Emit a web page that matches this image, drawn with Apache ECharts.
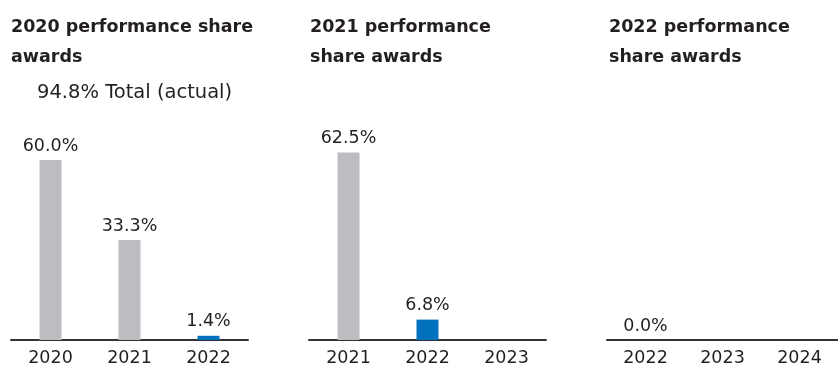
<!DOCTYPE html>
<html>
<head>
<meta charset="utf-8">
<script src="https://cdn.jsdelivr.net/npm/echarts@6/dist/echarts.min.js"></script>
<style>
  html, body { margin: 0; padding: 0; background: #fff; }
  #chart { width: 838px; height: 367px; }
</style>
</head>
<body>
<div id="chart"></div>
<script>
// Performance share award payout, by award year and vesting year
const panelTitles = [
  '2020 performance share\nawards',
  '2021 performance\nshare awards',
  '2022 performance\nshare awards'
];
const years2020 = ['2020', '2021', '2022'];
const years2021 = ['2021', '2022', '2023'];
const years2022 = ['2022', '2023', '2024'];
const values2020 = [60.0, 33.3, 1.4];
const values2021 = [62.5, 6.8, null];
const values2022 = [0.0, null, null];
// which year within each award is the current (highlighted) one
const currentYear = '2022';
const totalNote = '94.8% Total (actual)';

const FONT = '"DejaVu Sans", sans-serif';
const GREY = '#bcbdc0';
const BLUE = '#0071bc';
const INK = '#231f20';

const panels = [
  { left: 11, titleLeft: 6, cats: years2020, vals: values2020 },
  { left: 309, titleLeft: 305, cats: years2021, vals: values2021 },
  { left: 607, titleLeft: 604, cats: years2022, vals: values2022 }
];
const panelWidth = 237;

const chart = echarts.init(document.getElementById('chart'), null, { renderer: 'canvas' });

const option = {
  animation: false,
  backgroundColor: '#fff',
  title: panels.map((p, i) => ({
    text: panelTitles[i],
    left: p.titleLeft,
    top: 7,
    textStyle: {
      fontFamily: FONT,
      fontWeight: 'bold',
      fontSize: 17.5,
      lineHeight: 30,
      color: INK
    }
  })),
  graphic: [{
    type: 'text',
    left: 37,
    top: 83,
    style: {
      text: totalNote,
      font: '19.5px ' + FONT,
      fill: INK
    }
  }],
  grid: panels.map(p => ({
    left: p.left,
    width: panelWidth,
    top: 130,
    height: 210,
    containLabel: false
  })),
  xAxis: panels.map((p, i) => ({
    type: 'category',
    gridIndex: i,
    data: p.cats,
    axisLine: { show: true, lineStyle: { color: '#333', width: 2 } },
    axisTick: { show: false },
    axisLabel: {
      margin: 9,
      fontFamily: FONT,
      fontSize: 17.5,
      color: INK
    }
  })),
  yAxis: panels.map((p, i) => ({
    type: 'value',
    gridIndex: i,
    min: 0,
    max: 70,
    show: false,
    splitLine: { show: false }
  })),
  series: panels.map((p, i) => ({
    type: 'bar',
    xAxisIndex: i,
    yAxisIndex: i,
    barWidth: 22,
    data: p.vals.map((v, j) => ({
      value: v,
      itemStyle: { color: p.cats[j] === currentYear ? BLUE : GREY }
    })),
    label: {
      show: true,
      position: 'top',
      distance: 5,
      fontFamily: FONT,
      fontSize: 17.5,
      color: INK,
      formatter: d => (d.value == null ? '' : d.value.toFixed(1) + '%')
    }
  }))
};

chart.setOption(option);
</script>
</body>
</html>
